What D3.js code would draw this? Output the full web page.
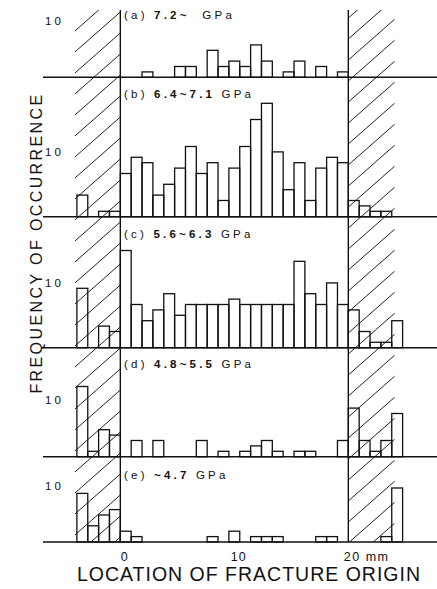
<!DOCTYPE html>
<html><head><meta charset="utf-8">
<script src="https://cdn.jsdelivr.net/npm/d3@7"></script>
<style>
html,body{margin:0;padding:0;background:#fff;}
svg{display:block;}
text{font-family:"Liberation Sans",Arial,sans-serif;fill:#111;}
</style></head>
<body>
<div id="chart"></div>
<script>
// ---- data ----
const bins = [-4,-3,-2,-1,0,1,2,3,4,5,6,7,8,9,10,11,12,13,14,15,16,17,18,19,20,21,22,23,24,25];
const panelTags = ["(a)", "(b)", "(c)", "(d)", "(e)"];
const rangeLabels = ["7.2~", "6.4~7.1", "5.6~6.3", "4.8~5.5", "~4.7"];
const countsA = [0,0,0,0, 0,0,1,0,0,2,2,0,5,2,3,2,6,3,0,1,3,0,2,0,1, 0,0,0,0,0];
const countsB = [4,0,1,1, 8,11,10,4,6,9,13,8,10,3,9,13,18,21,12,5,10,3,9,11,10, 3,2,1,1,0];
const countsC = [11,0,4,3, 18,8,5,7,10,6,8,8,8,8,9,8,8,8,8,8,16,10,8,12,8, 7,3,1,1,5];
const countsD = [13,1,5,4, 0,3,0,3,0,0,0,3,0,1,0,1,2,3,1,0,1,1,0,0,3, 9,3,1,3,8];
const countsE = [9,3,5,6, 2,1,0,0,0,0,0,0,1,0,2,0,1,1,1,0,0,0,1,1,0, 0,0,0,1,10];
const series = [countsA, countsB, countsC, countsD, countsE];
const yTickValue = 10;
const xTicks = [0, 10, 20];
const xTickUnit = "mm";
const xTitle = "LOCATION OF FRACTURE ORIGIN";
const yTitle = "FREQUENCY OF OCCURRENCE";

// ---- layout ----
const W = 437, H = 589;
const baselines = [77.3, 216.7, 347.7, 456.7, 542];
const tagY = [16, 95, 235, 365, 476];
const tickNudge = [1, 10, 10, 2, 1];
const topY = 10;
const unitPx = 5.4;

const svg = d3.select("#chart").append("svg").attr("width", W).attr("height", H);

const xBin = d3.scaleLinear().domain([-4, 26]).range([76.9, 402.6]);
const xMm = d3.scaleLinear().domain([0, 20]).range([xBin(0), xBin(21)]);
const yLen = d3.scaleLinear().domain([0, 1]).range([0, unitPx]);

// hatched regions
const hatchRegions = [[xBin(-4) - 2, xBin(0)], [xBin(21), xBin(25) + 3]];
const defs = svg.append("defs");
hatchRegions.forEach((r, i) => {
  defs.append("clipPath").attr("id", "hc" + i)
    .append("rect").attr("x", r[0]).attr("y", topY).attr("width", r[1] - r[0]).attr("height", baselines[4] - topY);
  const g = svg.append("g").attr("clip-path", `url(#hc${i})`);
  const slope = 0.88, sp = 21;
  const lines = d3.range(0, 32);
  g.selectAll("line").data(lines).join("line")
    .attr("x1", r[0]).attr("x2", r[1])
    .attr("y1", d => topY + d * sp + (i ? 8 : 0))
    .attr("y2", d => topY + d * sp + (i ? 8 : 0) - slope * (r[1] - r[0]))
    .attr("stroke", "#222").attr("stroke-width", 1);
});

// vertical reference lines
svg.selectAll("line.vref").data([0, 20]).join("line").attr("class", "vref")
  .attr("x1", d => xMm(d)).attr("x2", d => xMm(d))
  .attr("y1", topY).attr("y2", baselines[4])
  .attr("stroke", "#111").attr("stroke-width", 1.4);

// panels
series.forEach((vals, p) => {
  const base = baselines[p];
  const g = svg.append("g");
  const data = bins.map((b, i) => ({b, v: vals[i]})).filter(d => d.v > 0);
  g.selectAll("rect").data(data).join("rect")
    .attr("x", d => xBin(d.b)).attr("width", d => xBin(d.b + 1) - xBin(d.b))
    .attr("y", d => base - yLen(d.v)).attr("height", d => yLen(d.v))
    .attr("fill", "none").attr("stroke", "#111").attr("stroke-width", 1.3);
  g.append("line").attr("x1", 43).attr("x2", W).attr("y1", base).attr("y2", base)
    .attr("stroke", "#111").attr("stroke-width", 1.4);
  g.append("text").attr("x", 45).attr("y", base - yLen(yTickValue) - tickNudge[p])
    .attr("dominant-baseline", "middle").attr("font-size", 11.5).attr("letter-spacing", 3)
    .text(yTickValue);
  const t = g.append("text").attr("x", 124).attr("y", tagY[p]).attr("dominant-baseline", "middle")
    .attr("font-size", 11.5).attr("letter-spacing", 3.2);
  t.append("tspan").text(panelTags[p] + " ");
  t.append("tspan").attr("font-weight", "bold").text(rangeLabels[p]);
  t.append("tspan").text((p === 0 ? "  " : " ") + "GPa").attr("xml:space", "preserve");
});

// x axis labels
const axis = d3.axisBottom(xMm).tickValues(xTicks).tickSize(0).tickPadding(0)
  .tickFormat(d => d === 20 ? d + " " + xTickUnit : d);
const ax = svg.append("g").attr("transform", `translate(0,${baselines[4] + 10})`).call(axis);
ax.select(".domain").remove();
ax.selectAll("text").attr("font-size", 12.5).attr("fill", "#111")
  .attr("font-family", "Liberation Sans, Arial, sans-serif")
  .attr("letter-spacing", d => d === 20 ? 1.5 : 1)
  .attr("text-anchor", d => d === 20 ? "start" : "middle")
  .attr("dx", d => d === 20 ? -5 : 4);

svg.append("text").attr("x", 249).attr("y", 576).attr("text-anchor", "middle")
  .attr("dominant-baseline", "middle").attr("font-size", 19.5).attr("letter-spacing", 1)
  .text(xTitle);
svg.append("text").attr("transform", "translate(38,243) rotate(-90)").attr("text-anchor", "middle")
  .attr("dominant-baseline", "middle").attr("font-size", 16).attr("letter-spacing", 2.4)
  .text(yTitle);
</script>
</body></html>
